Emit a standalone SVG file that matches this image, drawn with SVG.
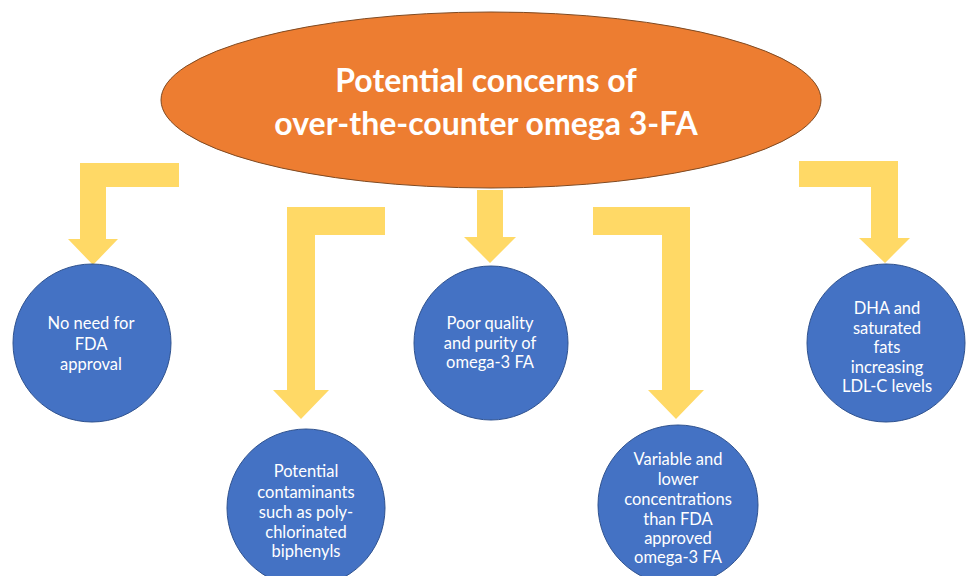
<svg xmlns="http://www.w3.org/2000/svg" width="966" height="576" viewBox="0 0 966 576">
<style>
.arrow{fill:#FFD966;stroke:none}
.node circle{fill:#4472C4;stroke:#2F528F;stroke-width:1}
.node text{fill:#FFFFFF;font-family:Lato,"Open Sans","Liberation Sans",sans-serif;font-size:16.5px;text-anchor:middle}
.title{fill:#FFFFFF;font-family:Lato,"Open Sans","Liberation Sans",sans-serif;font-size:32px;font-weight:bold;text-anchor:middle}
</style>
<rect width="966" height="576" fill="#FFFFFF"/>
<g id="connectors">
<polygon class="arrow" points="179,163 80,163 80,239 68,239 93,265 118,239 106,239 106,187 179,187"/>
<polygon class="arrow" points="385,207 287,207 287,390 273,390 301,419 329,390 315,390 315,235 385,235"/>
<polygon class="arrow" points="477,190 503,190 503,237 516,237 490,263 464,237 477,237"/>
<polygon class="arrow" points="593,207 690,207 690,390 704,390 676,419 648,390 662,390 662,235 593,235"/>
<polygon class="arrow" points="799,161 898,161 898,238 910,238 885,263 859,238 871,238 871,187 799,187"/>
</g>
<g id="root">
<ellipse cx="491" cy="100" rx="330" ry="88" fill="#ED7D31" stroke="#7F4A22" stroke-width="1"/>
<text class="title" x="486" y="92">Potential concerns of</text>
<text class="title" x="486" y="135">over-the-counter omega 3-FA</text>
</g>
<g id="n1" class="node">
<circle cx="92" cy="343" r="79"/>
<text x="91" y="329">No need for</text>
<text x="91" y="349.5">FDA</text>
<text x="91" y="370">approval</text>
</g>
<g id="n2" class="node">
<circle cx="306" cy="508" r="79"/>
<text x="306" y="477">Potential</text>
<text x="306" y="497.5">contaminants</text>
<text x="306" y="518">such as poly-</text>
<text x="306" y="538">chlorinated</text>
<text x="306" y="557">biphenyls</text>
</g>
<g id="n3" class="node">
<circle cx="491" cy="343" r="77"/>
<text x="490" y="329">Poor quality</text>
<text x="490" y="349">and purity of</text>
<text x="490" y="368">omega-3 FA</text>
</g>
<g id="n4" class="node">
<circle cx="678" cy="505" r="80"/>
<text x="678" y="465">Variable and</text>
<text x="678" y="485">lower</text>
<text x="678" y="505">concentrations</text>
<text x="678" y="525">than FDA</text>
<text x="678" y="544">approved</text>
<text x="678" y="563">omega-3 FA</text>
</g>
<g id="n5" class="node">
<circle cx="886" cy="343" r="79"/>
<text x="887" y="314">DHA and</text>
<text x="887" y="334">saturated</text>
<text x="887" y="353">fats</text>
<text x="887" y="373">increasing</text>
<text x="887" y="392">LDL-C levels</text>
</g>
</svg>
